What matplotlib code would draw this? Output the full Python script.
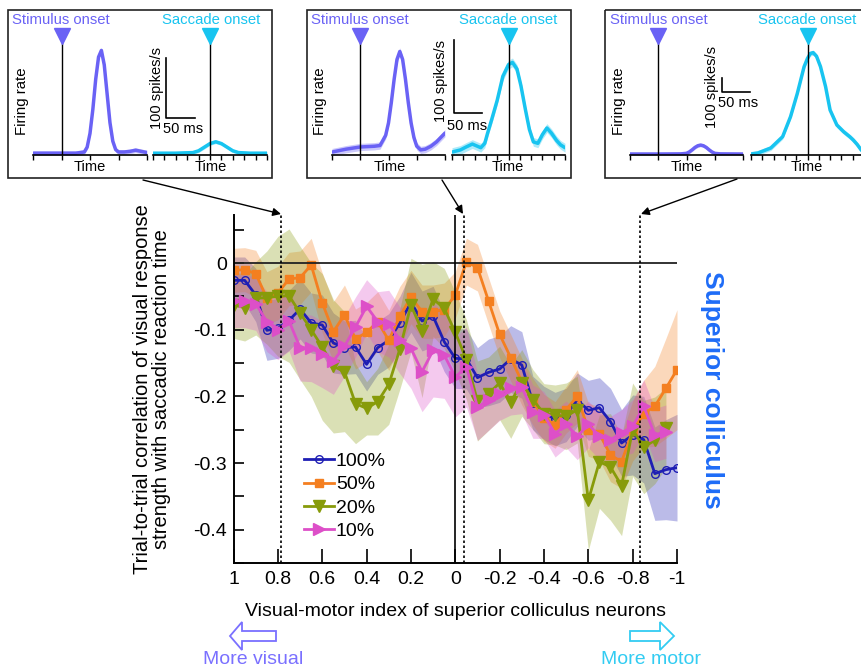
import numpy as np
import matplotlib
matplotlib.use('Agg')
import matplotlib.pyplot as plt
from matplotlib.patches import Rectangle, FancyArrow

plt.rcParams['font.family'] = ['Liberation Sans', 'DejaVu Sans']

W, H = 861, 669

def box(x0, y0, x1, y1):
    # pixel box (origin top-left) -> figure fraction rect
    return [x0 / W, 1 - y1 / H, (x1 - x0) / W, (y1 - y0) / H]

# ---- main panel data: visual-motor index bins and correlation per contrast ----
vmi = [1.0, 0.95, 0.9, 0.85, 0.8, 0.75, 0.7, 0.65, 0.6, 0.55,
       0.5, 0.45, 0.4, 0.35, 0.3, 0.25, 0.2, 0.15, 0.1, 0.05,
       0.0, -0.05, -0.1, -0.15, -0.2, -0.25, -0.3, -0.35, -0.4, -0.45,
       -0.5, -0.55, -0.6, -0.65, -0.7, -0.75, -0.8, -0.85, -0.9, -0.95, -1.0]

r100 = [-0.026, -0.026, -0.048, -0.101, -0.098, -0.086, -0.069, -0.090, -0.093, -0.120,
        -0.127, -0.126, -0.152, -0.127, -0.116, -0.090, -0.059, -0.087, -0.080, -0.118,
        -0.143, -0.144, -0.172, -0.164, -0.159, -0.144, -0.153, -0.210, -0.225, -0.234,
        -0.228, -0.205, -0.221, -0.217, -0.238, -0.270, -0.258, -0.265, -0.316, -0.310,
        -0.307]
r50 = [-0.011, -0.010, -0.016, -0.053, -0.045, -0.024, -0.022, -0.003, -0.060, -0.103,
       -0.078, -0.114, -0.104, -0.088, -0.116, -0.080, -0.051, -0.073, -0.073, -0.070,
       -0.048, 0.002, -0.007, -0.057, -0.107, -0.142, -0.178, -0.208, -0.232, -0.243,
       -0.220, -0.200, -0.250, -0.256, -0.288, -0.298, -0.252, -0.226, -0.215, -0.188,
       -0.160]
r20 = [-0.063, -0.067, -0.053, -0.052, -0.050, -0.049, -0.075, -0.100, -0.126, -0.155,
       -0.163, -0.211, -0.218, -0.208, -0.182, -0.129, -0.063, -0.102, -0.054, -0.068,
       -0.104, -0.145, -0.207, -0.196, -0.180, -0.208, -0.180, -0.205, -0.226, -0.228,
       -0.230, -0.220, -0.356, -0.298, -0.306, -0.334, -0.250, -0.276, -0.266, -0.247]
r10 = [-0.057, -0.057, -0.061, -0.088, -0.100, -0.087, -0.127, -0.128, -0.137, -0.147,
       -0.125, -0.096, -0.065, -0.088, -0.091, -0.116, -0.128, -0.163, -0.131, -0.138,
       -0.171, -0.156, -0.216, -0.206, -0.196, -0.188, -0.186, -0.223, -0.228, -0.256,
       -0.242, -0.260, -0.242, -0.260, -0.265, -0.255, -0.245, -0.215, -0.258, -0.253]

# s.e.m. of each curve
e100 = [0.035, 0.035, 0.04, 0.045, 0.045, 0.045, 0.045, 0.045, 0.045, 0.045,
        0.04, 0.04, 0.04, 0.04, 0.04, 0.04, 0.045, 0.045, 0.045, 0.045,
        0.045, 0.045, 0.045, 0.05, 0.05, 0.05, 0.05, 0.04, 0.04, 0.04,
        0.04, 0.04, 0.045, 0.045, 0.05, 0.05, 0.06, 0.065, 0.07, 0.075, 0.08]
e50 = [0.033, 0.033, 0.035, 0.04, 0.04, 0.04, 0.04, 0.04, 0.045, 0.045,
       0.045, 0.045, 0.045, 0.045, 0.045, 0.045, 0.04, 0.04, 0.04, 0.04,
       0.035, 0.035, 0.035, 0.035, 0.035, 0.035, 0.035, 0.035, 0.035, 0.035,
       0.035, 0.04, 0.04, 0.04, 0.04, 0.04, 0.045, 0.05, 0.06, 0.075, 0.09]
e20 = [0.05, 0.05, 0.055, 0.07, 0.09, 0.1, 0.1, 0.1, 0.11, 0.1,
       0.09, 0.06, 0.04, 0.05, 0.06, 0.06, 0.07, 0.1, 0.056, 0.06,
       0.06, 0.06, 0.06, 0.055, 0.055, 0.055, 0.05, 0.045, 0.045, 0.045,
       0.05, 0.05, 0.075, 0.07, 0.08, 0.075, 0.07, 0.07, 0.065, 0.06]
e10 = [0.04, 0.04, 0.04, 0.045, 0.045, 0.045, 0.05, 0.05, 0.05, 0.05,
       0.045, 0.045, 0.04, 0.045, 0.05, 0.05, 0.06, 0.06, 0.07, 0.065,
       0.06, 0.06, 0.05, 0.045, 0.04, 0.04, 0.04, 0.04, 0.035, 0.035,
       0.035, 0.035, 0.035, 0.035, 0.035, 0.035, 0.04, 0.04, 0.04, 0.04]

xticks = [1, 0.8, 0.6, 0.4, 0.2, 0, -0.2, -0.4, -0.6, -0.8, -1]
xticklabels = ['1', '0.8', '0.6', '0.4', '0.2', '0', '-0.2', '-0.4', '-0.6', '-0.8', '-1']
yticks = [0, -0.1, -0.2, -0.3, -0.4]
yticklabels = ['0', '-0.1', '-0.2', '-0.3', '-0.4']
example_vmi = [0.786, -0.04, -0.833]   # example neurons shown in the insets

# ---- example neuron firing rates (time in ms, rate in spikes/s) ----
a_stim_t = [-50, -25, 0, 25, 40, 45, 50, 55, 60, 65, 70, 75, 80, 85, 90, 95, 100, 110, 120, 130, 140, 150]
a_stim_r = [3, 3, 3, 3, 5, 13, 36, 76, 126, 163, 174, 150, 102, 54, 23, 9, 5, 5, 6, 8, 6, 4]
a_sacc_t = [-100, -60, -30, -20, -10, 0, 10, 20, 30, 40, 50, 70, 100]
a_sacc_r = [3, 3, 4, 7, 13, 19, 22, 19, 13, 7, 4, 3, 3]

b_stim_t = [-50, -25, 0, 25, 35, 45, 50, 55, 60, 65, 70, 75, 80, 85, 90, 95, 100, 107, 115, 125, 135, 145, 150]
b_stim_r = [4, 8, 11, 12, 13, 27, 44, 72, 104, 131, 142, 131, 104, 72, 44, 24, 12, 7, 8, 12, 18, 26, 30]
b_sacc_t = [-100, -85, -75, -64, -55, -49, -42, -37, -30, -20, -10, 0, 7, 15, 22, 30, 37, 44, 52, 60, 68, 76, 85, 92, 100]
b_sacc_r = [4, 7, 11, 15, 12, 10, 16, 30, 48, 75, 108, 124, 127, 118, 95, 62, 35, 18, 16, 28, 37, 30, 20, 14, 10]

c_stim_t = [-50, 0, 40, 50, 55, 60, 65, 70, 75, 80, 85, 90, 95, 100, 110, 150]
c_stim_r = [7, 7, 8, 12, 22, 37, 54, 66, 71, 66, 54, 37, 22, 12, 8, 7]
c_sacc_t = [-100, -88, -65, -44, -30, -18, -6, 0, 5, 10, 16, 23, 32, 40, 52, 64, 75, 81, 88, 95, 100]
c_sacc_r = [7, 14, 50, 131, 274, 440, 631, 690, 725, 731, 705, 631, 488, 321, 214, 166, 130, 107, 75, 36, 20]

c_blue = '#1e1eb4'
c_orange = '#f47f20'
c_olive = '#879b0a'
c_pink = '#dd4fc8'
c_stim = '#6a62f5'
c_sacc = '#18c4f0'

fig = plt.figure(figsize=(W / 100, H / 100), dpi=100)

# ---------------- main panel ----------------
ax = fig.add_axes(box(233.6, 215, 677, 563))
series = [
    ('100%', r100, e100, c_blue, dict(marker='o', mfc='none', ms=5.5, mew=1.0)),
    ('50%', r50, e50, c_orange, dict(marker='s', ms=5.5)),
    ('20%', r20, e20, c_olive, dict(marker='v', ms=9)),
    ('10%', r10, e10, c_pink, dict(marker='>', ms=9)),
]
for lab, y, e, c, mk in series:
    x = np.array(vmi[:len(y)])
    y = np.array(y)
    e = np.array(e)
    ax.fill_between(x, y - e, y + e, color=c, alpha=0.3, lw=0)
for lab, y, e, c, mk in series:
    x = vmi[:len(y)]
    ax.plot(x, y, color=c, lw=2, label=lab, **mk)

ax.axhline(0, color='#222222', lw=1.3)
ax.axvline(0, color='k', lw=1.2)
for v in example_vmi:
    ax.axvline(v, color='k', lw=1.2, ls=(0, (1.5, 1.5)))

ax.set_xlim(1, -1)
ax.set_ylim(-0.45, 0.072)
ax.set_xticks(xticks)
ax.set_xticklabels(xticklabels)
ax.set_yticks(yticks)
ax.set_yticklabels(yticklabels)
ax.set_yticks([0.05, -0.05, -0.15, -0.25, -0.35, -0.45], minor=True)
ax.tick_params(axis='x', direction='in', length=10, width=1.2, labelsize=14, pad=6)
ax.tick_params(axis='y', which='both', direction='in', length=7, width=1.2, labelsize=14, pad=5)
for s in ['top', 'right']:
    ax.spines[s].set_visible(False)
for s in ['left', 'bottom']:
    ax.spines[s].set_linewidth(1.4)
ax.patch.set_alpha(0)

ax.set_xlabel('Visual-motor index of superior colliculus neurons', fontsize=14, va='center')
ax.xaxis.set_label_coords(0.5, -0.138)
ax.set_ylabel('Trial-to-trial correlation of visual response\nstrength with saccadic reaction time',
              fontsize=14.5, va='center', linespacing=1.05)
ax.yaxis.set_label_coords(-0.184, 0.5)

ax.legend(loc='upper left', bbox_to_anchor=(0.158, 0.318), frameon=False, fontsize=14,
          handlelength=1.55, handletextpad=0.1, labelspacing=0.3, borderpad=0, borderaxespad=0)

# ---------------- example neuron insets ----------------
def panel(x0, x1, t, r, sem, tlim, ticks, color, ytop):
    a = fig.add_axes(box(x0, 42, x1, 155))
    t = np.array(t)
    r = np.array(r)
    a.fill_between(t, r - sem, r + sem, color=color, alpha=0.35, lw=0)
    a.plot(t, r, color=color, lw=2.5, solid_capstyle='round', solid_joinstyle='round')
    a.axvline(0, color='k', lw=1)
    a.plot([0], [1.055], transform=a.get_xaxis_transform(), marker='v', ms=12,
           color=color, clip_on=False)
    a.set_xlim(tlim)
    a.set_ylim(0, ytop)
    for s in ['left', 'top', 'right']:
        a.spines[s].set_visible(False)
    a.spines['bottom'].set_linewidth(1.2)
    a.set_yticks([])
    a.set_xticks(ticks)
    a.set_xticklabels([])
    a.tick_params(axis='x', direction='out', length=3.5, width=1)
    a.patch.set_alpha(0)
    return a

stim_ticks = [-50, 0, 50, 100, 150]
sacc_ticks = [-100, -80, -60, -40, -20, 0, 20, 40, 60, 80, 100]

insets = [
    # left/right panel pixel spans, traces, sem, y-range
    ((33, 147), (153, 267), (a_stim_t, a_stim_r, 4), (a_sacc_t, a_sacc_r, 3), 188),
    ((332, 445), (452, 565), (b_stim_t, b_stim_r, 5), (b_sacc_t, b_sacc_r, 6), 155),
    ((630, 743), (751, 864), (c_stim_t, c_stim_r, 12), (c_sacc_t, c_sacc_r, 18), 807),
]
pans = []
for lx, rx, st, sc, ytop in insets:
    pl = panel(lx[0], lx[1], st[0], st[1], st[2], (-50, 150), stim_ticks, c_stim, ytop)
    pr = panel(rx[0], rx[1], sc[0], sc[1], sc[2], (-100, 100), sacc_ticks, c_sacc, ytop)
    pans.append((pl, pr))

# scale bars: 50 ms by 100 spikes/s
def scalebar(a, t0, r0):
    a.plot([t0, t0, t0 + 50], [r0 + 100, r0, r0], color='k', lw=1.2, clip_on=False)

scalebar(pans[0][1], -77, 62)
scalebar(pans[1][1], -96.5, 57.5)
scalebar(pans[2][0], 112, 450)

# overlay in pixel coordinates for boxes, labels and arrows
ov = fig.add_axes([0, 0, 1, 1])
ov.set_xlim(0, W)
ov.set_ylim(H, 0)
ov.axis('off')

for x0, x1 in [(8, 272), (307, 571), (605, 885)]:
    ov.add_patch(Rectangle((x0, 9.5), x1 - x0, 168, fill=False, ec='#222222', lw=1.2))

stim_x = [61, 360, 659]
sacc_x = [211, 508, 807]
stim_time_x = [90, 390, 687]
for sx, cx, tx in zip(stim_x, sacc_x, stim_time_x):
    ov.text(sx, 20, 'Stimulus onset', color=c_stim, ha='center', va='center', fontsize=10.7)
    ov.text(cx, 20, 'Saccade onset', color=c_sacc, ha='center', va='center', fontsize=10.7)
    ov.text(tx, 167, 'Time', ha='center', va='center', fontsize=10.5)
    ov.text(cx, 167, 'Time', ha='center', va='center', fontsize=10.5)
for fx in [22, 320, 619]:
    ov.text(fx, 101, 'Firing rate', rotation=90, ha='center', va='center', fontsize=10.8)
for (sx, sy), (mx, my) in [((157, 88), (183, 129)), ((441, 81), (467, 126)), ((712, 87), (738, 103))]:
    ov.text(sx, sy, '100 spikes/s', rotation=90, ha='center', va='center', fontsize=10.5)
    ov.text(mx, my, '50 ms', ha='center', va='center', fontsize=10.5)

# pointers from insets to the neurons' positions on the index axis
for (x0, y0), (x1, y1) in [((143, 180), (281, 214)), ((442, 180), (463, 214)), ((737, 179), (641, 214))]:
    ov.annotate('', xy=(x1, y1), xytext=(x0, y0),
                arrowprops=dict(arrowstyle='-|>', color='k', lw=1, mutation_scale=12,
                                shrinkA=0, shrinkB=0))

ov.text(712, 390, 'Superior colliculus', rotation=270, ha='center', va='center',
        fontsize=19, fontweight='bold', color='#1e6cf7')

# hollow direction arrows
ov.add_patch(FancyArrow(276, 636, -46, 0, width=10, head_width=28, head_length=12,
                        length_includes_head=True, fill=False, ec='#7a70ff', lw=1.3))
ov.add_patch(FancyArrow(630, 636, 44, 0, width=10, head_width=28, head_length=14,
                        length_includes_head=True, fill=False, ec='#33ccf2', lw=1.3))
ov.text(253, 659, 'More visual', color='#7a70ff', ha='center', va='center', fontsize=14)
ov.text(651, 659, 'More motor', color='#33ccf2', ha='center', va='center', fontsize=14)

fig.savefig('out.png', dpi=100)
